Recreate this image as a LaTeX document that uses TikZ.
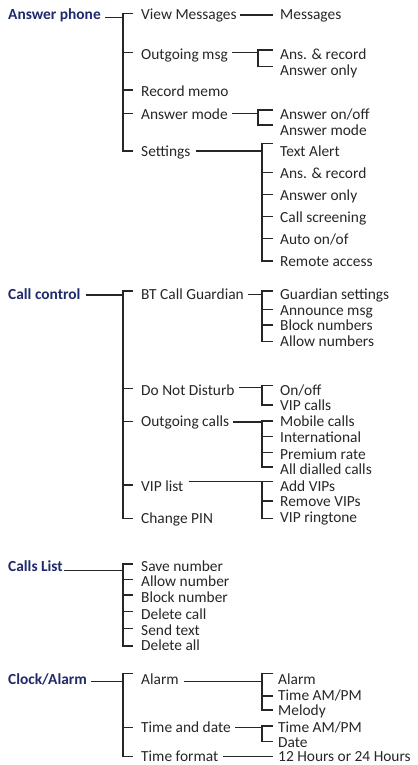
\documentclass[tikz,border=0pt]{standalone}
\usepackage{fontspec}
\setmainfont{Carlito}
\usetikzlibrary{calc}
\definecolor{hd}{HTML}{1F2A6B}
\definecolor{tx}{HTML}{262626}
\tikzset{
 ln/.style={draw=tx, line width=1.05bp},
 thk/.style={draw=tx, line width=1.9bp},
 item/.style={anchor=base west, inner sep=0pt, text=tx, font=\fontsize{15.4bp}{18bp}\selectfont},
 head/.style={anchor=base west, inner sep=0pt, text=hd, font=\fontsize{15.4bp}{18bp}\selectfont\bfseries},
}
% group bracket: [style]{first}{last}{tick end dx}{trunk dx}{top dy}{bottom dy}
\newcommand\grp[7][ln]{\draw[#1] ([shift={(#4,#6)}]#2.base west) -- ([shift={(#5,#6)}]#2.base west) |- ([shift={(#4,#7)}]#3.base west);}
% tick: [style]{node}{tick end dx}{trunk dx}{dy}
\newcommand\tck[5][ln]{\draw[#1] ([shift={(#3,#5)}]#2.base west) -- ([shift={(#4,#5)}]#2.base west);}
% parent link: [style]{parent}{dx}{dy}{child}{dx}{dy}
\newcommand\plk[7][ln]{\draw[#1] ([shift={(#3,#4)}]#2.base east) -- ([shift={(#6,#7)}]#5.base west);}
\begin{document}
\begin{tikzpicture}[x=1bp,y=-1bp]
\useasboundingbox (0,0) rectangle (417,765);
% ---------- Answer phone
\node[head] (ap) at (8,20) {Answer phone};
\node[item] (vm) at (141,20) {View Messages};
\node[item] (om) at (141,59.3) {Outgoing msg};
\node[item] (rm) at (141,96.7) {Record memo};
\node[item] (am) at (141,119.3) {Answer mode};
\node[item] (st) at (141,156.7) {Settings};
\node[item] (msg) at (280,20) {Messages};
\node[item] (ar1) at (280,59.3) {Ans. \& record};
\node[item] (ao1) at (280,76) {Answer only};
\node[item] (aoo) at (280,119.3) {Answer on/off};
\node[item] (am2) at (280,135) {Answer mode};
\node[item] (ta) at (280,156.7) {Text Alert};
\node[item] (ar2) at (280,178.3) {Ans. \& record};
\node[item] (ao2) at (280,200) {Answer only};
\node[item] (cs) at (280,222.3) {Call screening};
\node[item] (aof) at (280,244.3) {Auto on/of};
\node[item] (ra) at (280,266.7) {Remote access};
\plk{ap}{4}{-2.5}{vm}{-18}{-2.5}
\grp{vm}{st}{-8}{-18}{-6.7}{-5.7}
\tck{om}{-8}{-18}{-7}
\tck{rm}{-8}{-18}{-6.7}
\tck{am}{-8}{-18}{-6}
\plk{vm}{3}{-5}{msg}{-7}{-5}
\plk{om}{4}{-7}{ar1}{-22}{-7}
\grp{ar1}{ao1}{-7}{-22}{-9.3}{-9.3}
\plk{am}{4}{-6}{aoo}{-22}{-6}
\grp{aoo}{am2}{-7}{-22}{-9.3}{-10}
\plk{st}{5}{-5.7}{ta}{-18}{-5.7}
\grp{ta}{ra}{-7}{-18}{-13}{-5.7}
\tck{ar2}{-7}{-18}{-6}
\tck{ao2}{-7}{-18}{-5.7}
\tck{cs}{-7}{-18}{-5.6}
\tck{aof}{-7}{-18}{-6}
% ---------- Call control
\node[head] (cc) at (8,299) {Call control};
\node[item] (btg) at (141,299) {BT Call Guardian};
\node[item] (dnd) at (141,395) {Do Not Disturb};
\node[item] (oc) at (141,426.7) {Outgoing calls};
\node[item] (vip) at (141,491) {VIP list};
\node[item] (cp) at (141,523.3) {Change PIN};
\node[item] (gs) at (280,299) {Guardian settings};
\node[item] (anm) at (280,315) {Announce msg};
\node[item] (bn) at (280,330.7) {Block numbers};
\node[item] (an) at (280,346.7) {Allow numbers};
\node[item] (onoff) at (280,395) {On/off};
\node[item] (vipc) at (280,410.7) {VIP calls};
\node[item] (mc) at (280,426.7) {Mobile calls};
\node[item] (intl) at (280,442.7) {International};
\node[item] (pr) at (280,459) {Premium rate};
\node[item] (adc) at (280,474.3) {All dialled calls};
\node[item] (av) at (280,491) {Add VIPs};
\node[item] (rv) at (280,506.7) {Remove VIPs};
\node[item] (vr) at (280,522.7) {VIP ringtone};
\plk{cc}{5}{-4}{btg}{-18}{-4}
\grp{btg}{cp}{-8}{-18}{-8}{-5}
\tck{dnd}{-8}{-18}{-6.7}
\tck{oc}{-8}{-18}{-5}
\tck{vip}{-8}{-18}{-6}
\plk{btg}{4}{-4.7}{gs}{-18}{-4.7}
\grp{gs}{an}{-7}{-18}{-8}{-5}
\tck{anm}{-7}{-18}{-5.7}
\tck{bn}{-7}{-18}{-5.7}
\plk{dnd}{4}{-7.3}{onoff}{-18}{-7.3}
\grp{onoff}{vipc}{-7}{-18}{-9.3}{-5.7}
\plk[thk]{oc}{4}{-4.5}{mc}{-18}{-4.5}
\grp[thk]{mc}{adc}{-7}{-18}{-6}{-7}
\tck{intl}{-7}{-18}{-6}
\tck{pr}{-7}{-18}{-6.3}
\plk{vip}{5}{-9.3}{av}{-18}{-9.3}
\grp{av}{vr}{-7}{-18}{-9.3}{-4.4}
\tck{rv}{-7}{-18}{-5.7}
% ---------- Calls List
\node[head] (cl) at (8,571) {Calls List};
\node[item] (sn) at (141,571) {Save number};
\node[item] (alln) at (141,586.7) {Allow number};
\node[item] (bkn) at (141,602.7) {Block number};
\node[item] (dc) at (141,619) {Delete call};
\node[item] (stx) at (141,635) {Send text};
\node[item] (da) at (141,650.7) {Delete all};
\plk{cl}{1}{-0.5}{sn}{-18}{-0.5}
\grp{sn}{da}{-8}{-18}{-7}{-4.7}
\tck{alln}{-8}{-18}{-7.4}
\tck{bkn}{-8}{-18}{-7.7}
\tck{dc}{-8}{-18}{-7.3}
\tck{stx}{-8}{-18}{-6.7}
% ---------- Clock/Alarm
\node[head] (ca) at (8,684) {Clock/Alarm};
\node[item] (al) at (141,684) {Alarm};
\node[item] (tad) at (141,732.7) {Time and date};
\node[item] (tf) at (141,761.5) {Time format};
\node[item] (al2) at (278,684) {Alarm};
\node[item] (tap1) at (278,700) {Time AM/PM};
\node[item] (mel) at (278,715.7) {Melody};
\node[item] (tap2) at (278,732.7) {Time AM/PM};
\node[item] (dt) at (278,747.8) {Date};
\node[item] (h12) at (278,761.5) {12 Hours or 24 Hours};
\plk{ca}{4}{-2.3}{al}{-18}{-2.3}
\grp{al}{tf}{-8}{-18}{-10.7}{-5}
\tck{tad}{-8}{-18}{-5}
\plk{al}{5}{-2.3}{al2}{-16}{-2.3}
\grp{al2}{mel}{-5}{-16}{-10.7}{-5.7}
\tck{tap1}{-5}{-16}{-4}
\plk{tad}{4}{-5}{tap2}{-16}{-5}
\grp{tap2}{dt}{-5}{-16}{-6.7}{-6.1}
\plk{tf}{5}{-5}{h12}{-5}{-5}
\end{tikzpicture}
\end{document}
